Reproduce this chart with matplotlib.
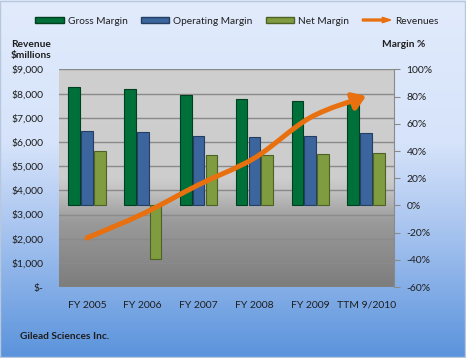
import numpy as np
import matplotlib
matplotlib.use("Agg")
import matplotlib.pyplot as plt
import matplotlib.patches as mpatches
from matplotlib.path import Path
from matplotlib.legend_handler import HandlerPatch
from matplotlib.colors import LinearSegmentedColormap
from matplotlib.ticker import FuncFormatter

plt.rcParams['font.family'] = ['Lato', 'DejaVu Sans']

years = ["FY 2005", "FY 2006", "FY 2007", "FY 2008", "FY 2009", "TTM 9/2010"]
gross_margin = [87.0, 85.4, 81.0, 78.0, 76.6, 76.0]
operating_margin = [54.6, 53.8, 50.9, 50.1, 50.9, 53.0]
net_margin = [39.9, -39.6, 36.9, 36.9, 37.6, 38.4]
revenues = [2028, 3026, 4230, 5336, 7011, 7900]

c_gross = "#00703a"
c_oper = "#3b659c"
c_net = "#7f9c40"
c_rev = "#e8700f"
txt = "#1e1e1e"

fig = plt.figure(figsize=(4.66, 3.58), dpi=100)

# figure background gradient (light blue -> blue)
bg = fig.add_axes([0, 0, 1, 1], zorder=-10)
bg_cmap = LinearSegmentedColormap.from_list(
    "bg", [(0, "#5a93dc"), (0.35, "#a6c3ef"), (0.6, "#d6e3fa"), (1, "#e1ebfc")])
bg.imshow(np.linspace(0, 1, 256).reshape(-1, 1), aspect="auto", cmap=bg_cmap,
          origin="lower", extent=[0, 1, 0, 1])
bg.set_axis_off()
fig.patches.append(mpatches.Rectangle((0.001, 0.002), 0.997, 0.995, transform=fig.transFigure,
                                      fill=False, edgecolor="#b7c7de", lw=1))

# revenue axis (left) holds the plot background and the grid
ax = fig.add_axes([0.1266, 0.1983, 0.719, 0.6076])
ax.set_xlim(-0.5, len(years) - 0.5)
ax.set_ylim(0, 9000)
pa_cmap = LinearSegmentedColormap.from_list(
    "pa", [(0, "#7d7d7d"), (0.3, "#9a9a9a"), (0.45, "#c4c4c4"), (0.5, "#cdcdcd"), (1, "#cfcfcf")])
ax.imshow(np.linspace(0, 1, 256).reshape(-1, 1), aspect="auto", cmap=pa_cmap,
          origin="lower", extent=[-0.5, len(years) - 0.5, 0, 9000], zorder=0)
ax.set_yticks(np.arange(0, 9001, 1000))
ax.yaxis.grid(True, color="#8a8a8a", lw=1)
ax.set_axisbelow(True)
ax.yaxis.set_major_formatter(FuncFormatter(lambda v, p: "$-" if v == 0 else "${:,.0f}".format(v)))
ax.tick_params(axis="y", length=0, labelsize=7.5, pad=11, colors=txt)
ax.set_xticks(range(len(years)))
ax.set_xticklabels(years)
ax.tick_params(axis="x", length=0, labelsize=7.5, pad=10, colors=txt)
for s in ax.spines.values():
    s.set_visible(False)

# margin axis (right) with the bars
ax2 = ax.twinx()
ax2.set_ylim(-60, 100)
ax2.set_yticks(np.arange(-60, 101, 20))
ax2.yaxis.set_major_formatter(FuncFormatter(lambda v, p: "{:.0f}%".format(v)))
ax2.tick_params(axis="y", length=4, labelsize=7.5, pad=5, colors="#8a8a8a", labelcolor=txt)
for k, s in ax2.spines.items():
    s.set_visible(k == "right")
ax2.spines["right"].set_color("#8a8a8a")

x = np.arange(len(years))
w = 0.21
ax2.bar(x - 0.23, gross_margin, w, color=c_gross, edgecolor="#00401f", lw=0.8)
ax2.bar(x, operating_margin, w, color=c_oper, edgecolor="#243f63", lw=0.8)
ax2.bar(x + 0.23, net_margin, w, color=c_net, edgecolor="#4f6226", lw=0.8)

# revenue line (smoothed, with arrow head)
ax3 = ax.twinx()
ax3.set_ylim(0, 9000)
ax3.set_axis_off()
pts = np.column_stack([x, revenues]).astype(float)
verts = [pts[0]]
codes = [Path.MOVETO]
for i in range(len(pts) - 1):
    p0 = pts[max(i - 1, 0)]
    p1 = pts[i]
    p2 = pts[i + 1]
    p3 = pts[min(i + 2, len(pts) - 1)]
    verts += [p1 + (p2 - p0) / 6, p2 - (p3 - p1) / 6, p2]
    codes += [Path.CURVE4] * 3
arrow = mpatches.FancyArrowPatch(path=Path(verts, codes), arrowstyle="-|>,head_length=1.9,head_width=1.3",
                                 mutation_scale=4, color=c_rev, lw=3.6, transform=ax3.transData)
ax3.add_patch(arrow)


class ArrowHandler(HandlerPatch):
    def create_artists(self, legend, orig_handle, xdescent, ydescent, width, height, fontsize, trans):
        a = mpatches.FancyArrow(-xdescent, height / 2 - ydescent, width, 0, width=height * 0.35,
                                head_width=height * 1.0, head_length=width * 0.3,
                                length_includes_head=True, color=c_rev)
        a.set_transform(trans)
        return [a]


handles = [mpatches.Patch(facecolor=c_gross, edgecolor="#00401f"),
           mpatches.Patch(facecolor=c_oper, edgecolor="#243f63"),
           mpatches.Patch(facecolor=c_net, edgecolor="#4f6226"),
           mpatches.FancyArrow(0, 0, 1, 0, color=c_rev)]
labels = ["Gross Margin", "Operating Margin", "Net Margin", "Revenues"]
leg = fig.legend(handles, labels, loc="center", bbox_to_anchor=(0.508, 0.941), ncol=4, frameon=False,
                 fontsize=7.3, handlelength=2.8, handleheight=0.45, handletextpad=0.4, columnspacing=1.3,
                 handler_map={mpatches.FancyArrow: ArrowHandler()})
for t in leg.get_texts():
    t.set_color(txt)

fig.text(0.066, 0.86, "Revenue\n$millions", ha="center", va="center", fontsize=7.3, color=txt,
         fontweight="bold", linespacing=1.3)
fig.text(0.867, 0.875, "Margin %", ha="center", va="center", fontsize=7.3, color=txt, fontweight="bold")
fig.text(0.043, 0.06, "Gilead Sciences Inc.", ha="left", va="center", fontsize=7.3, color=txt,
         fontweight="bold")

fig.savefig("out.png", dpi=100)
